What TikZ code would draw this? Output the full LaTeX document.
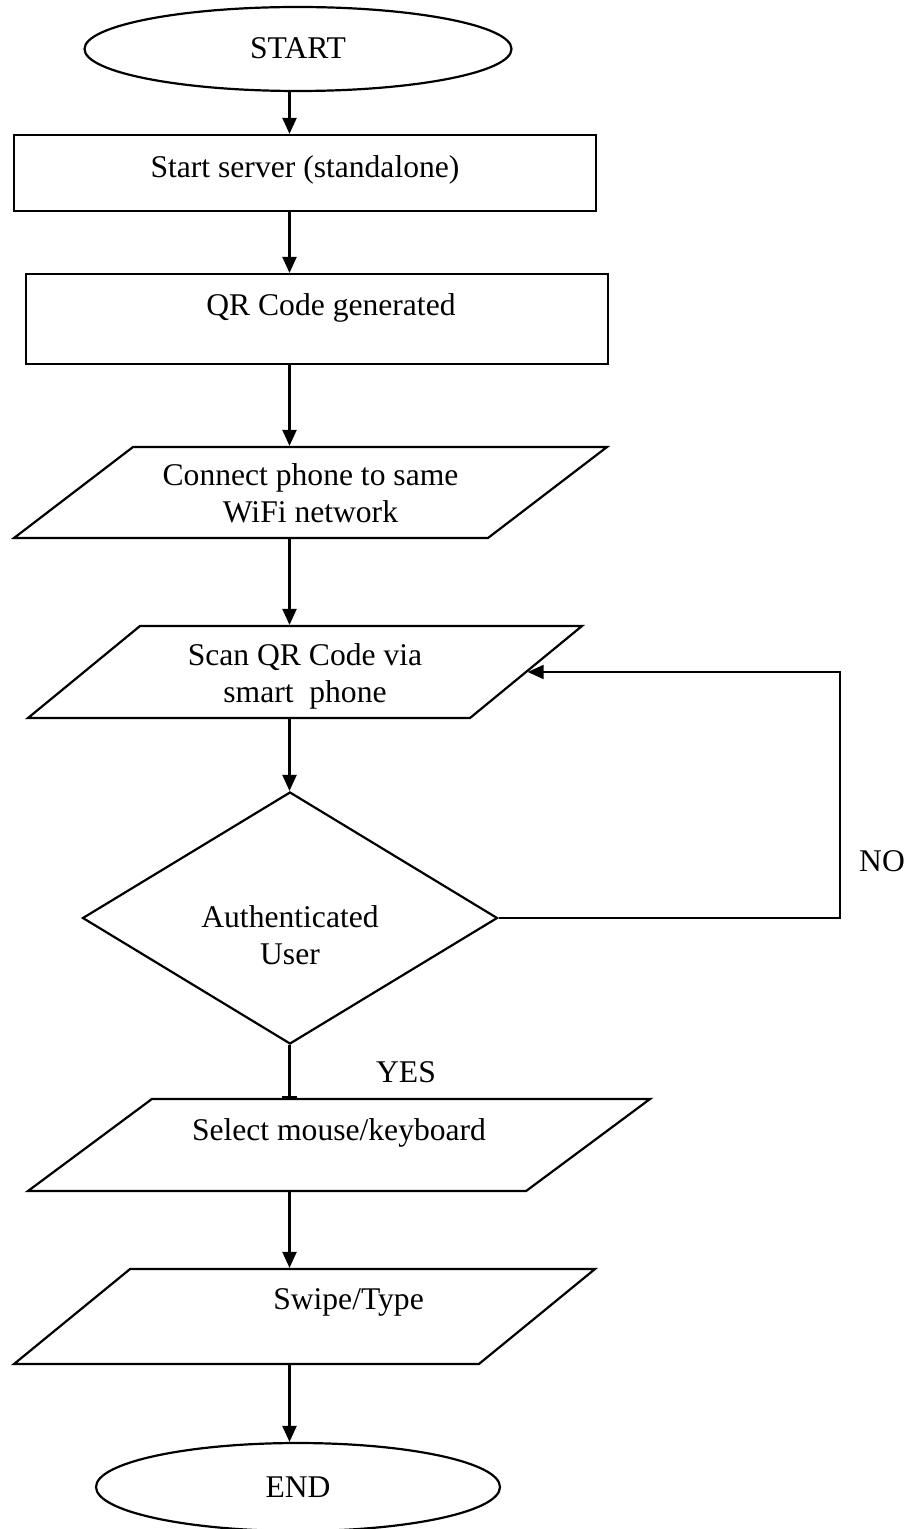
\documentclass[tikz,border=0pt]{standalone}
\usepackage{fontspec}
\setmainfont{Liberation Serif}
\usetikzlibrary{shapes.geometric,arrows.meta}
\begin{document}
\begin{tikzpicture}[x=0.5pt, y=-0.5pt, line width=1.1pt,
  font=\fontsize{15.8pt}{18.3pt}\selectfont,
  arr/.style={-{Triangle[length=8pt,width=7pt]}},
  term/.style={draw, ellipse, inner sep=0pt, text height=10pt, text depth=0pt},
  proc/.style={draw, rectangle, inner sep=0pt, text height=10pt},
  io/.style={draw, trapezium, trapezium stretches body, inner xsep=0pt, align=center},
  test/.style={draw, diamond, aspect=1.65, inner sep=0pt, align=center}]
\useasboundingbox (0,0) rectangle (917,1529);
\coordinate (spine) at (289.5,0);
\coordinate (nocol) at (840,0);

\node[term, minimum width=213.5pt, minimum height=42pt] (start) at (298,49) {START};
\node[proc, minimum width=291pt, minimum height=38pt, text depth=5.5pt] (server) at (305,173) {Start server (standalone)};
\node[proc, minimum width=291pt, minimum height=45pt, text depth=13.5pt] (qr) at (317,319) {\hspace*{14pt}QR Code generated};
\node[io, minimum width=296.5pt, inner ysep=7.75pt, text height=30pt, text depth=0pt, trapezium left angle=37.4, trapezium right angle=142.6] (wifi) at (310.5,492.5) {Connect phone to same\\WiFi network};
\node[io, minimum width=277pt, inner ysep=7.85pt, text height=30.3pt, text depth=0pt, trapezium left angle=39.4, trapezium right angle=140.6] (scan) at (305,672) {Scan QR Code via\\smart~ phone};
\node[test, minimum width=207.5pt, minimum height=126pt, text height=46pt, text depth=0pt] (auth) at (290,918) {Authenticated\\User};
\node[io, minimum width=311pt, inner ysep=10.75pt, text height=10pt, text depth=14.5pt, trapezium left angle=36.6, trapezium right angle=143.4] (select) at (339,1145) {Select mouse/keyboard};
\node[io, minimum width=290.5pt, inner ysep=10pt, text height=10pt, text depth=17.5pt, trapezium left angle=39.3, trapezium right angle=140.7] (swipe) at (304.5,1316.5) {\hspace*{44pt}Swipe/Type};
\node[term, minimum width=202pt, minimum height=44pt] (finish) at (298,1487) {END};
\node (no) at (882,861) {NO};
\node (yes) at (406,1072) {YES};

\draw[arr](spine |- start.south)--(spine |- server.north);
\draw[arr](spine |- server.south)--(spine |- qr.north);
\draw[arr](spine |- qr.south)--(spine |- wifi.north);
\draw[arr](spine |- wifi.south)--(spine |- scan.north);
\draw[arr](spine |- scan.south)--(spine |- auth.north);
\draw[-{Bar[width=7.5pt]}](spine |- auth.south)--(spine |- select.north);
\draw[arr](spine |- select.south)--(spine |- swipe.north);
\draw[arr](spine |- swipe.south)--(spine |- finish.north);
\draw[arr](auth.east)--(auth.east -| nocol) |- (scan.east);
\end{tikzpicture}
\end{document}
